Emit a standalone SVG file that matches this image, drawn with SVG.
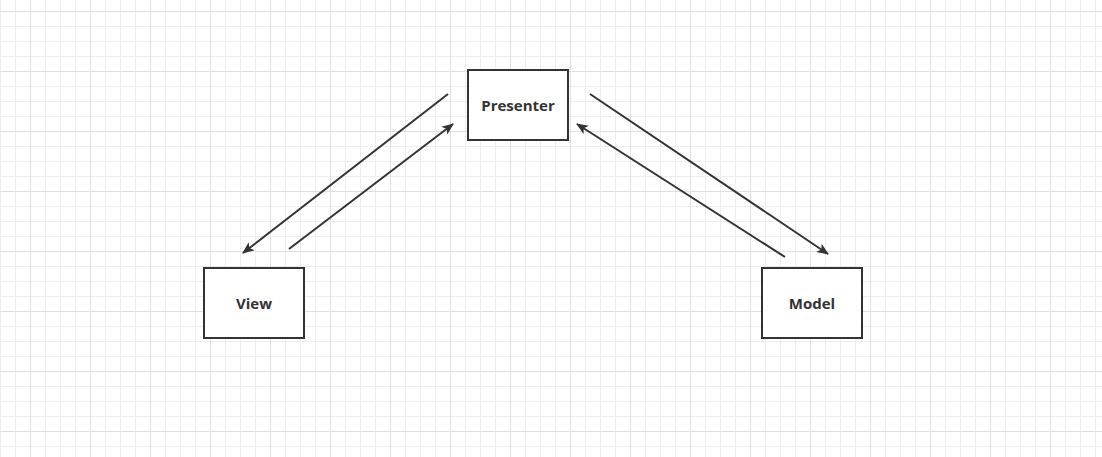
<svg xmlns="http://www.w3.org/2000/svg" width="1102" height="457" viewBox="0 0 1102 457">
<defs>
<pattern id="minor" x="0" y="11" width="15" height="15" patternUnits="userSpaceOnUse">
<path d="M0.5 0V15M0 0.5H15" fill="none" stroke="#eeeeee" stroke-width="1"/>
</pattern>
<pattern id="major" x="30" y="11" width="60" height="60" patternUnits="userSpaceOnUse">
<path d="M0.5 0V60M0 0.5H60" fill="none" stroke="#e0e0e0" stroke-width="1"/>
</pattern>
<marker id="arr" viewBox="0 0 12 10" refX="11" refY="5" markerWidth="12" markerHeight="10" markerUnits="userSpaceOnUse" orient="auto">
<path d="M0 0L12 5L0 10L3 5Z" fill="#333333"/>
</marker>
<style>
.box{fill:#ffffff;stroke:#333333;stroke-width:2}
.lbl{font-family:"Open Sans","Noto Sans",sans-serif;font-weight:bold;font-size:15px;fill:#333333;text-anchor:middle;dominant-baseline:central}
.edge{stroke:#333333;stroke-width:2;fill:none;marker-end:url(#arr)}
</style>
</defs>
<rect width="1102" height="457" fill="#ffffff"/>
<rect width="1102" height="457" fill="url(#minor)"/>
<rect width="1102" height="457" fill="url(#major)"/>
<g id="connectors">
<path class="edge" d="M448 94L243 253"/>
<path class="edge" d="M289 249L453 124"/>
<path class="edge" d="M590 94L828 254"/>
<path class="edge" d="M785 257L577 124"/>
</g>
<g id="presenter">
<rect class="box" x="468" y="70" width="100" height="70"/>
<text class="lbl" x="518" y="105">Presenter</text>
</g>
<g id="view">
<rect class="box" x="204" y="268" width="100" height="70"/>
<text class="lbl" x="254" y="303">View</text>
</g>
<g id="model">
<rect class="box" x="762" y="268" width="100" height="70"/>
<text class="lbl" x="812" y="303">Model</text>
</g>
</svg>
